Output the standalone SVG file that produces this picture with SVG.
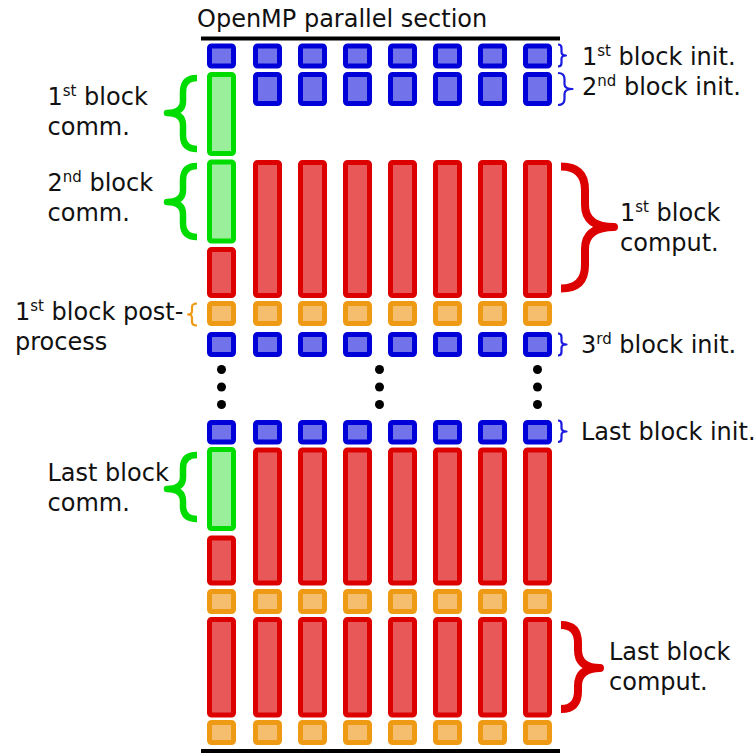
<svg xmlns="http://www.w3.org/2000/svg" width="755" height="753" viewBox="0 0 755 753">
<style>
text{font-family:"DejaVu Sans","Liberation Sans",sans-serif;font-size:24px;fill:#111}
.sup{font-size:15px}
rect{stroke-width:5}
.b{fill:#7272ea;stroke:#0000d8}
.g{fill:#9aef9a;stroke:#00dc00}
.r{fill:#e85858;stroke:#dc0000}
.o{fill:#f4be6e;stroke:#ee9a14}
.br{fill:none;stroke-linecap:butt;stroke-linejoin:round}
.bb{stroke:#1a1ae0;stroke-width:2.2}
.bg{stroke:#00dc00;stroke-width:6.5}
.brd{stroke:#dc0000;stroke-width:8}
.bo{stroke:#ee9a14;stroke-width:2.2}
.ln{stroke:#000;stroke-width:4}
</style>
<defs>
<rect id="sq" width="24" height="20" rx="2"/>
</defs>
<g id="frame">
<line class="ln" x1="201" y1="38.5" x2="560" y2="38.5"/>
<line class="ln" x1="201" y1="751" x2="560" y2="751"/>
<text x="197" y="27">OpenMP parallel section</text>
</g>
<g id="init1">
<rect class="b" x="209.5" y="46" width="24" height="20" rx="2"/>
<rect class="b" x="255.5" y="46" width="24" height="20" rx="2"/>
<rect class="b" x="300.5" y="46" width="24" height="20" rx="2"/>
<rect class="b" x="345.5" y="46" width="24" height="20" rx="2"/>
<rect class="b" x="390.5" y="46" width="24" height="20" rx="2"/>
<rect class="b" x="435.5" y="46" width="24" height="20" rx="2"/>
<rect class="b" x="480.5" y="46" width="24" height="20" rx="2"/>
<rect class="b" x="525.5" y="46" width="24" height="20" rx="2"/>
</g>
<g id="init2">
<rect class="b" x="255.5" y="74.5" width="24" height="29" rx="2"/>
<rect class="b" x="300.5" y="74.5" width="24" height="29" rx="2"/>
<rect class="b" x="345.5" y="74.5" width="24" height="29" rx="2"/>
<rect class="b" x="390.5" y="74.5" width="24" height="29" rx="2"/>
<rect class="b" x="435.5" y="74.5" width="24" height="29" rx="2"/>
<rect class="b" x="480.5" y="74.5" width="24" height="29" rx="2"/>
<rect class="b" x="525.5" y="74.5" width="24" height="29" rx="2"/>
</g>
<g id="comm1"><rect class="g" x="209.5" y="74.5" width="24" height="79" rx="2"/></g>
<g id="comm2"><rect class="g" x="209.5" y="162" width="24" height="79" rx="2"/></g>
<g id="comput1">
<rect class="r" x="209.5" y="249.5" width="24" height="46" rx="2"/>
<rect class="r" x="255.5" y="162.5" width="24" height="133" rx="2"/>
<rect class="r" x="300.5" y="162.5" width="24" height="133" rx="2"/>
<rect class="r" x="345.5" y="162.5" width="24" height="133" rx="2"/>
<rect class="r" x="390.5" y="162.5" width="24" height="133" rx="2"/>
<rect class="r" x="435.5" y="162.5" width="24" height="133" rx="2"/>
<rect class="r" x="480.5" y="162.5" width="24" height="133" rx="2"/>
<rect class="r" x="525.5" y="162.5" width="24" height="133" rx="2"/>
</g>
<g id="post1">
<rect class="o" x="209.5" y="303.5" width="24" height="20" rx="2"/>
<rect class="o" x="255.5" y="303.5" width="24" height="20" rx="2"/>
<rect class="o" x="300.5" y="303.5" width="24" height="20" rx="2"/>
<rect class="o" x="345.5" y="303.5" width="24" height="20" rx="2"/>
<rect class="o" x="390.5" y="303.5" width="24" height="20" rx="2"/>
<rect class="o" x="435.5" y="303.5" width="24" height="20" rx="2"/>
<rect class="o" x="480.5" y="303.5" width="24" height="20" rx="2"/>
<rect class="o" x="525.5" y="303.5" width="24" height="20" rx="2"/>
</g>
<g id="init3">
<rect class="b" x="209.5" y="334.5" width="24" height="20" rx="2"/>
<rect class="b" x="255.5" y="334.5" width="24" height="20" rx="2"/>
<rect class="b" x="300.5" y="334.5" width="24" height="20" rx="2"/>
<rect class="b" x="345.5" y="334.5" width="24" height="20" rx="2"/>
<rect class="b" x="390.5" y="334.5" width="24" height="20" rx="2"/>
<rect class="b" x="435.5" y="334.5" width="24" height="20" rx="2"/>
<rect class="b" x="480.5" y="334.5" width="24" height="20" rx="2"/>
<rect class="b" x="525.5" y="334.5" width="24" height="20" rx="2"/>
</g>
<g id="dots" fill="#000">
<circle cx="221.5" cy="369.5" r="4.5"/><circle cx="221.5" cy="387" r="4.5"/><circle cx="221.5" cy="404.5" r="4.5"/>
<circle cx="379.5" cy="369.5" r="4.5"/><circle cx="379.5" cy="387" r="4.5"/><circle cx="379.5" cy="404.5" r="4.5"/>
<circle cx="537.5" cy="369.5" r="4.5"/><circle cx="537.5" cy="387" r="4.5"/><circle cx="537.5" cy="404.5" r="4.5"/>
</g>
<g id="initLast">
<rect class="b" x="209.5" y="422.5" width="24" height="19.5" rx="2"/>
<rect class="b" x="255.5" y="422.5" width="24" height="19.5" rx="2"/>
<rect class="b" x="300.5" y="422.5" width="24" height="19.5" rx="2"/>
<rect class="b" x="345.5" y="422.5" width="24" height="19.5" rx="2"/>
<rect class="b" x="390.5" y="422.5" width="24" height="19.5" rx="2"/>
<rect class="b" x="435.5" y="422.5" width="24" height="19.5" rx="2"/>
<rect class="b" x="480.5" y="422.5" width="24" height="19.5" rx="2"/>
<rect class="b" x="525.5" y="422.5" width="24" height="19.5" rx="2"/>
</g>
<g id="commLast"><rect class="g" x="209.5" y="449.5" width="24" height="79" rx="2"/></g>
<g id="computPrev">
<rect class="r" x="209.5" y="538" width="24" height="45" rx="2"/>
<rect class="r" x="255.5" y="450" width="24" height="133" rx="2"/>
<rect class="r" x="300.5" y="450" width="24" height="133" rx="2"/>
<rect class="r" x="345.5" y="450" width="24" height="133" rx="2"/>
<rect class="r" x="390.5" y="450" width="24" height="133" rx="2"/>
<rect class="r" x="435.5" y="450" width="24" height="133" rx="2"/>
<rect class="r" x="480.5" y="450" width="24" height="133" rx="2"/>
<rect class="r" x="525.5" y="450" width="24" height="133" rx="2"/>
</g>
<g id="postPrev">
<rect class="o" x="209.5" y="591.5" width="24" height="20" rx="2"/>
<rect class="o" x="255.5" y="591.5" width="24" height="20" rx="2"/>
<rect class="o" x="300.5" y="591.5" width="24" height="20" rx="2"/>
<rect class="o" x="345.5" y="591.5" width="24" height="20" rx="2"/>
<rect class="o" x="390.5" y="591.5" width="24" height="20" rx="2"/>
<rect class="o" x="435.5" y="591.5" width="24" height="20" rx="2"/>
<rect class="o" x="480.5" y="591.5" width="24" height="20" rx="2"/>
<rect class="o" x="525.5" y="591.5" width="24" height="20" rx="2"/>
</g>
<g id="computLast">
<rect class="r" x="209.5" y="619.5" width="24" height="95.5" rx="2"/>
<rect class="r" x="255.5" y="619.5" width="24" height="95.5" rx="2"/>
<rect class="r" x="300.5" y="619.5" width="24" height="95.5" rx="2"/>
<rect class="r" x="345.5" y="619.5" width="24" height="95.5" rx="2"/>
<rect class="r" x="390.5" y="619.5" width="24" height="95.5" rx="2"/>
<rect class="r" x="435.5" y="619.5" width="24" height="95.5" rx="2"/>
<rect class="r" x="480.5" y="619.5" width="24" height="95.5" rx="2"/>
<rect class="r" x="525.5" y="619.5" width="24" height="95.5" rx="2"/>
</g>
<g id="postLast">
<rect class="o" x="209.5" y="722.5" width="24" height="20" rx="2"/>
<rect class="o" x="255.5" y="722.5" width="24" height="20" rx="2"/>
<rect class="o" x="300.5" y="722.5" width="24" height="20" rx="2"/>
<rect class="o" x="345.5" y="722.5" width="24" height="20" rx="2"/>
<rect class="o" x="390.5" y="722.5" width="24" height="20" rx="2"/>
<rect class="o" x="435.5" y="722.5" width="24" height="20" rx="2"/>
<rect class="o" x="480.5" y="722.5" width="24" height="20" rx="2"/>
<rect class="o" x="525.5" y="722.5" width="24" height="20" rx="2"/>
</g>
<g id="braces">
<path class="br bb" d="M558 44.5 Q561.5 44.5 561.5 48 L561.5 52 Q561.5 55.5 566 55.5 Q561.5 55.5 561.5 59 L561.5 63 Q561.5 66.5 558 66.5"/>
<path class="br bb" d="M558 73 Q564.5 73 564.5 79 L564.5 84 Q564.5 89 572.5 89 Q564.5 89 564.5 94 L564.5 99 Q564.5 105 558 105"/>
<path class="br bb" d="M558 333.5 Q561.5 333.5 561.5 337 L561.5 341 Q561.5 344.5 566.5 344.5 Q561.5 344.5 561.5 348 L561.5 352 Q561.5 355.5 558 355.5"/>
<path class="br bb" d="M558 420.5 Q561.5 420.5 561.5 424 L561.5 428 Q561.5 431.5 566.5 431.5 Q561.5 431.5 561.5 435 L561.5 438.5 Q561.5 442 558 442"/>
<path class="br bo" d="M197 303.5 Q192 303.5 192 307 L192 311 Q192 314.5 188 314.5 Q192 314.5 192 318 L192 322 Q192 325.5 197 325.5"/>
<path class="br bg" d="M197 78 Q183 78 183 92 L183 101 Q183 113 167 113 Q183 113 183 125 L183 135 Q183 149 197 149"/>
<path class="br bg" d="M197 166 Q183 166 183 180 L183 190 Q183 202 167 202 Q183 202 183 214 L183 223 Q183 237 197 237"/>
<path class="br bg" d="M197 455 Q183 455 183 468 L183 477 Q183 489 167 489 Q183 489 183 501 L183 506 Q183 519 197 519"/>
<path class="br brd" d="M561 166.5 Q585 166.5 585 190 L585 205 Q585 227 614 227 Q585 227 585 249 L585 265 Q585 288.5 561 288.5"/>
<path class="br brd" d="M561 625 Q578 625 578 643 L578 650 Q578 668 600 668 Q578 668 578 686 L578 691 Q578 709 561 709"/>
</g>
<g id="labels">
<text x="582" y="65">1<tspan class="sup" dy="-9">st</tspan><tspan dy="9"> block init.</tspan></text>
<text x="582" y="95">2<tspan class="sup" dy="-9">nd</tspan><tspan dy="9"> block init.</tspan></text>
<text x="47.5" y="104.5">1<tspan class="sup" dy="-9">st</tspan><tspan dy="9"> block</tspan></text>
<text x="47.5" y="135">comm.</text>
<text x="47.5" y="191">2<tspan class="sup" dy="-9">nd</tspan><tspan dy="9"> block</tspan></text>
<text x="47.5" y="221">comm.</text>
<text x="620" y="221">1<tspan class="sup" dy="-9">st</tspan><tspan dy="9"> block</tspan></text>
<text x="620" y="251">comput.</text>
<text x="15" y="320">1<tspan class="sup" dy="-9">st</tspan><tspan dy="9"> block post-</tspan></text>
<text x="15" y="350">process</text>
<text x="581" y="353">3<tspan class="sup" dy="-9">rd</tspan><tspan dy="9"> block init.</tspan></text>
<text x="581" y="440">Last block init.</text>
<text x="47.5" y="481">Last block</text>
<text x="47.5" y="511">comm.</text>
<text x="609" y="660">Last block</text>
<text x="609" y="689.5">comput.</text>
</g>
</svg>
